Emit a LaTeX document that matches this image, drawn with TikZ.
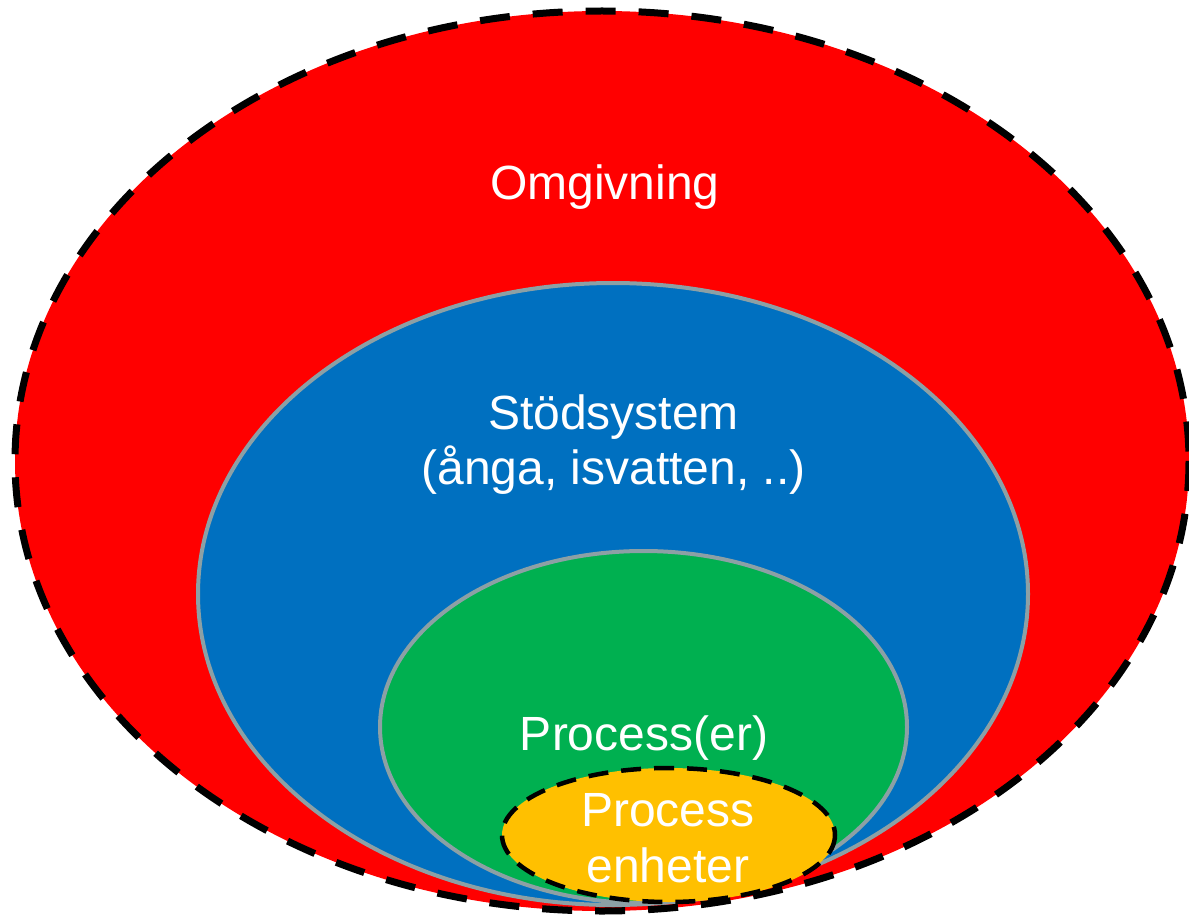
\documentclass[tikz,border=0pt]{standalone}
\usepackage{fontspec}
\setmainfont{Liberation Sans}
\definecolor{envred}{RGB}{255,0,0}
\definecolor{supblue}{RGB}{0,112,192}
\definecolor{procgreen}{RGB}{0,176,80}
\definecolor{unityellow}{RGB}{255,192,0}
\definecolor{rimgray}{RGB}{140,160,165}
\begin{document}
\begin{tikzpicture}[x=1pt,y=-1pt,
  solidrim/.style={draw=rimgray,line width=4pt},
  label/.style={text=white,font=\fontsize{48}{56}\selectfont,anchor=base,inner sep=0pt}]
  \useasboundingbox (0,0) rectangle (1189,920);
  % nested areas, outermost first
  \path[fill=envred,draw=black,line width=7pt,dash pattern=on 30pt off 23pt]
    (602,461) ellipse [x radius=587, y radius=450];
  \path[fill=supblue,solidrim] (613,594) ellipse [x radius=415, y radius=311];
  \path[fill=procgreen,solidrim] (643.5,727) ellipse [x radius=263.5, y radius=176];
  \path[fill=unityellow,draw=black,line width=4.5pt,dash pattern=on 20pt off 13pt]
    (668.5,835) ellipse [x radius=166.5, y radius=67];
  % labels
  \node[label] (omg) at (605,200) {Omgivning};
  \node[label] (sup1) at (613.5,429) {Stödsystem};
  \node[label] (sup2) at (613.5,484) {(ånga, isvatten, ..)};
  \node[label] (proc) at (644,750) {Process(er)};
  \node[label] (unit1) at (668,826) {Process};
  \node[label] (unit2) at (668,882) {enheter};
\end{tikzpicture}
\end{document}
